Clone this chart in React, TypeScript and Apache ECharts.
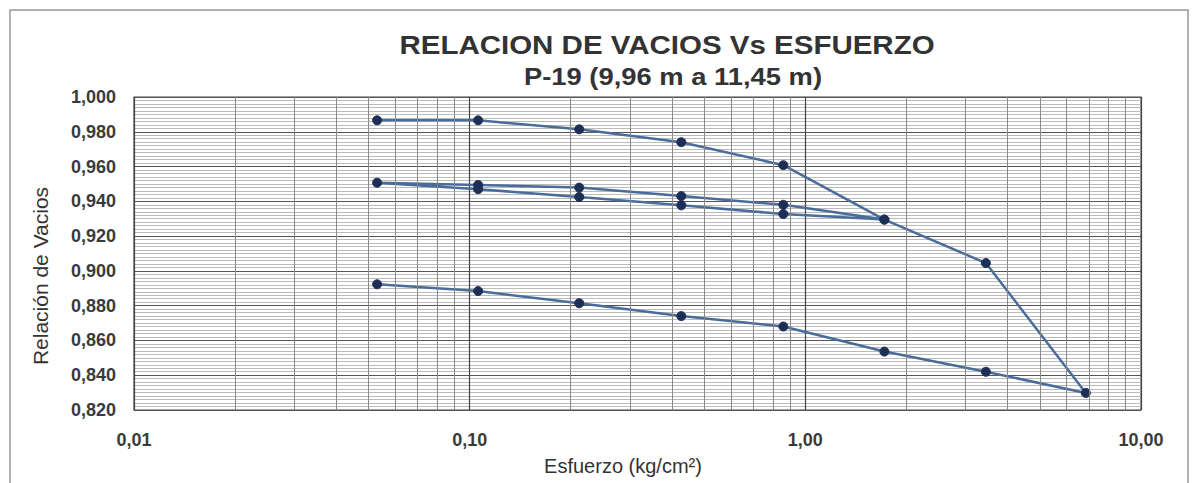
import React, { useEffect, useRef } from "react";
import * as echarts from "echarts";

// Esfuerzo (kg/cm²) and Relación de vacíos, in test order
const stress = [0.053, 0.106, 0.212, 0.427, 0.86, 1.72, 0.86, 0.427, 0.212, 0.106, 0.053, 0.106, 0.212, 0.427, 0.86, 1.72, 3.45, 6.85, 3.45, 1.72, 0.86, 0.427, 0.212, 0.106, 0.053];
const voidRatio = [0.9866, 0.9866, 0.9814, 0.974, 0.9608, 0.9295, 0.938, 0.943, 0.9479, 0.9494, 0.9507, 0.947, 0.9425, 0.9377, 0.9327, 0.9295, 0.9045, 0.8298, 0.842, 0.8536, 0.868, 0.874, 0.8814, 0.8884, 0.8923];

const minorX = [0.02, 0.03, 0.04, 0.05, 0.06, 0.07, 0.08, 0.09, 0.2, 0.3, 0.4, 0.5, 0.6, 0.7, 0.8, 0.9, 2, 3, 4, 5, 6, 7, 8, 9];

const titleLine1 = "RELACION DE VACIOS Vs ESFUERZO";
const titleLine2 = "P-19 (9,96 m a 11,45 m)";
const xName = "Esfuerzo (kg/cm²)";
const yName = "Relación de Vacios";

export default function App() {
  const ref = useRef<HTMLDivElement>(null);
  useEffect(() => {
    if (!ref.current) return;
    const chart = echarts.init(ref.current, null, { renderer: "svg" });
    const font = "Liberation Sans, Arial, sans-serif";
    chart.setOption({
      animation: false,
      backgroundColor: "#fff",
      textStyle: { fontFamily: font },
      graphic: [
        {
          type: "rect",
          shape: { x: 10, y: 10, width: 1178, height: 490 },
          style: { fill: "none", stroke: "#999", lineWidth: 1.5 },
          silent: true,
        },
        {
          type: "text",
          x: 667,
          y: 45,
          scaleX: 1.18,
          style: { text: titleLine1, fontSize: 25, fontWeight: "bold", fill: "#333", textAlign: "center", textVerticalAlign: "middle", fontFamily: font },
        },
        {
          type: "text",
          x: 673,
          y: 77,
          scaleX: 1.19,
          style: { text: titleLine2, fontSize: 23, fontWeight: "bold", fill: "#333", textAlign: "center", textVerticalAlign: "middle", fontFamily: font },
        },
        {
          type: "text",
          x: 40,
          y: 276,
          rotation: Math.PI / 2,
          style: { text: yName, fontSize: 21, fill: "#333", textAlign: "center", textVerticalAlign: "middle", fontFamily: font },
        },
        {
          type: "text",
          x: 623,
          y: 466,
          style: { text: xName, fontSize: 20, fill: "#333", textAlign: "center", textVerticalAlign: "middle", fontFamily: font },
        },
      ],
      grid: { left: 134, right: 51, top: 97, bottom: 73, show: true, borderColor: "#444", borderWidth: 1.2 },
      xAxis: {
        type: "log",
        logBase: 10,
        min: 0.01,
        max: 10,
        axisLine: { show: false },
        axisTick: { show: false },
        axisLabel: {
          margin: 21,
          fontSize: 18,
          fontWeight: "bold",
          color: "#3a3a3a",
          formatter: (v: number) => v.toFixed(2).replace(".", ","),
        },
        splitLine: { show: true, lineStyle: { color: "#444", width: 1.2 } },
      },
      yAxis: {
        type: "value",
        min: 0.82,
        max: 1.0,
        interval: 0.02,
        axisLine: { show: false },
        axisTick: { show: false },
        axisLabel: {
          margin: 18,
          fontSize: 18,
          fontWeight: "bold",
          color: "#3a3a3a",
          formatter: (v: number) => v.toFixed(3).replace(".", ","),
        },
        splitLine: { show: true, lineStyle: { color: "#555", width: 1.2 } },
        minorTick: { show: false, splitNumber: 10 },
        minorSplitLine: { show: true, lineStyle: { color: "#bbb", width: 1 } },
      },
      series: [
        {
          type: "line",
          data: stress.map((x, i) => [x, voidRatio[i]]),
          symbol: "none",
          lineStyle: { opacity: 0 },
          silent: true,
          z: 1,
          markLine: {
            silent: true,
            symbol: ["none", "none"],
            label: { show: false },
            lineStyle: { color: "#888", width: 1, type: "solid" },
            data: minorX.map((v) => ({ xAxis: v })),
          },
        },
        {
          type: "line",
          data: stress.map((x, i) => [x, voidRatio[i]]),
          symbol: "circle",
          symbolSize: 9,
          lineStyle: { color: "#4a6c9b", width: 2.5 },
          itemStyle: { color: "#1e2f55", borderColor: "#1e2f55" },
          z: 3,
        },
      ],
    });
    return () => chart.dispose();
  }, []);
  return <div ref={ref} style={{ width: 1192, height: 483, position: "absolute", left: 0, top: 0 }} />;
}
